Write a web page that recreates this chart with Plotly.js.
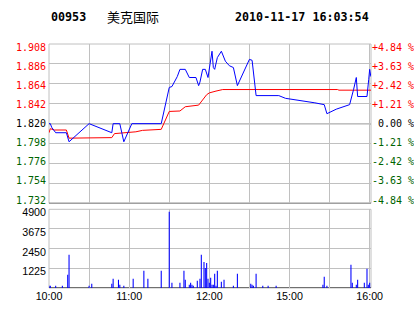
<!DOCTYPE html>
<html><head><meta charset="utf-8">
<script src="https://cdn.plot.ly/plotly-3.0.1.min.js"></script>
<style>html,body{margin:0;padding:0;background:#fff;overflow:hidden}#c{width:414px;height:314px}</style>
</head><body><div id="c"></div><script>
const stockCode = '00953';
const stockName = '美克国际';
const stamp = '2010-11-17 16:03:54';
const prevClose = 1.820;

// minutes since 10:00 on a compressed trading-time axis
const priceMin = [0,1,2,5,13,15,30,47,48,53,56,62,84,90,92,96,98,102,105,110,112,113,115,117,119,122,123,124,126,129,132,135,138,141,150,152,155,172,177,187,199,206,208,215,225,228,230,231,238,239.3,240,240.9];
const price    = [1.820,1.820,1.816,1.810,1.810,1.800,1.820,1.810,1.820,1.820,1.800,1.820,1.820,1.860,1.861,1.872,1.880,1.880,1.871,1.871,1.862,1.866,1.880,1.880,1.871,1.900,1.882,1.880,1.893,1.900,1.889,1.884,1.882,1.862,1.891,1.890,1.851,1.851,1.848,1.846,1.843,1.841,1.831,1.836,1.841,1.858,1.871,1.850,1.850,1.869,1.880,1.872];

const avgMin   = [0,1,4,13,15,31,47,49,65,70,84,90,98,102,107,112,118,120,125,130,216,217,241];
const avgPrice = [1.810,1.8145,1.813,1.813,1.804,1.804,1.8046,1.809,1.811,1.8126,1.8137,1.8335,1.834,1.8387,1.8394,1.8405,1.852,1.854,1.856,1.8577,1.8577,1.857,1.857];

const volMin = [0,1,5,10,14,15,30,32,47,48,52,53,56,63,71,74,84,90,92,98,101,102,105,106,107,108,111,113,114,116,117,118,119,120,121,122,123,124,125,126,129,131,138,141,151,152,153,155,160,164,170,205,206,208,226,227,230,231,236,238,239,240];
const volume = [143,143,143,143,825,2065,143,267,267,578,516,205,143,578,1075,578,1075,4750,330,330,1075,516,205,330,205,143,453,578,2065,1612,1240,1550,578,330,640,205,205,887,143,1075,391,516,143,887,267,205,143,887,143,143,143,205,702,143,1447,330,205,516,330,1200,205,330];

const priceTicks = [1.732,1.754,1.776,1.798,1.820,1.842,1.864,1.886,1.908];
const pctLabels  = ['-4.84 %','-3.63 %','-2.42 %','-1.21 %','\u00a00.00 %','+1.21 %','+2.42 %','+3.63 %','+4.84 %'];
const volTicks   = [1225,2450,3675,4900];
const timeTicks  = [0,30,60,90,120,150,180,210,240];
const timeLabels = ['10:00','','11:00','','12:00','','15:00','','16:00'];

const RED = '#ff0000', GREEN = '#006400', GRID = '#c0c0c0';
const colorFor = (v) => v > prevClose + 1e-9 ? RED : (v < prevClose - 1e-9 ? GREEN : '#000000');
const pct = (p) => (p / prevClose - 1) * 100;

// label-only axes: slightly different ranges so labels sit where the reference prints them
const labelRange = [1.7282, 1.9118];
const volLabelRange = [210, 5110];

const priceText = priceTicks.map(v => `<span style="color:${colorFor(v)}">${v.toFixed(3)}</span>`);
const pctVals = priceTicks.map(pct);
const pctText = priceTicks.map((v, i) => `<span style="color:${colorFor(v)}">${pctLabels[i]}</span>`);

const ghost = {color: 'rgba(0,0,0,0)', width: 0};
const traces = [
  {x: priceMin, y: price.map(pct), xaxis: 'x', yaxis: 'y2', type: 'scatter', mode: 'lines', line: ghost, hoverinfo: 'skip', showlegend: false},
  {x: priceMin, y: price, xaxis: 'x', yaxis: 'y4', type: 'scatter', mode: 'lines', line: ghost, hoverinfo: 'skip', showlegend: false},
  {x: volMin, y: volume, xaxis: 'x', yaxis: 'y5', type: 'scatter', mode: 'lines', line: ghost, hoverinfo: 'skip', showlegend: false},
  {x: avgMin, y: avgPrice, xaxis: 'x', yaxis: 'y', type: 'scatter', mode: 'lines',
   line: {color: '#ff0000', width: 1}, hoverinfo: 'skip', showlegend: false},
  {x: priceMin, y: price, xaxis: 'x', yaxis: 'y', type: 'scatter', mode: 'lines',
   line: {color: '#0000ff', width: 1}, hoverinfo: 'skip', showlegend: false},
  {x: volMin, y: volume, xaxis: 'x', yaxis: 'y3', type: 'bar', width: 0.8,
   marker: {color: '#0000ff', line: {width: 0}}, hoverinfo: 'skip', showlegend: false}
];

const monoFont = {family: 'DejaVu Sans Mono, monospace', size: 10, color: '#000'};
const sansFont = {family: 'Liberation Sans, Arial, sans-serif', size: 10.7, color: '#000'};
const pTop = 0.347, vTop = 0.3225;
const layout = {
  width: 414, height: 314,
  margin: {l: 49, r: 43, t: 44, b: 26, pad: 0},
  paper_bgcolor: '#ffffff', plot_bgcolor: '#ffffff',
  showlegend: false, hovermode: false,
  xaxis: {range: [0, 241], anchor: 'y3', tickmode: 'array', tickvals: timeTicks, ticktext: timeLabels,
          showgrid: true, gridcolor: GRID, gridwidth: 1, zeroline: false, showline: false, ticks: '',
          tickfont: sansFont},
  yaxis: {domain: [pTop, 1], range: [1.732, 1.908], tickmode: 'array', tickvals: priceTicks,
          showticklabels: false, showgrid: true, gridcolor: GRID, gridwidth: 1, zeroline: false, showline: false, ticks: ''},
  yaxis4: {overlaying: 'y', side: 'left', anchor: 'x', range: labelRange, tickmode: 'array', tickvals: priceTicks, ticktext: priceText,
           showgrid: false, zeroline: false, showline: false, ticks: '', ticklabelstandoff: 2, tickfont: monoFont},
  yaxis2: {overlaying: 'y', side: 'right', anchor: 'x', range: labelRange.map(pct), tickmode: 'array',
           tickvals: pctVals, ticktext: pctText, showgrid: false, zeroline: false, showline: false, ticks: '',
           ticklabelstandoff: 0, tickfont: monoFont},
  yaxis3: {domain: [0, vTop], range: [0, 4900], tickmode: 'array', tickvals: volTicks, showticklabels: false,
           showgrid: true, gridcolor: GRID, gridwidth: 1, zeroline: false, showline: false, ticks: ''},
  yaxis5: {overlaying: 'y3', side: 'left', anchor: 'x', range: volLabelRange, tickmode: 'array', tickvals: volTicks,
           ticktext: volTicks.map(String), showgrid: false, zeroline: false, showline: false, ticks: '',
           ticklabelstandoff: 2, tickfont: sansFont},
  shapes: [
    {type: 'rect', xref: 'paper', yref: 'paper', x0: 0, x1: 1, y0: pTop, y1: 1, line: {color: GRID, width: 1}, layer: 'between'},
    {type: 'rect', xref: 'paper', yref: 'paper', x0: 0, x1: 1, y0: 0, y1: vTop, line: {color: GRID, width: 1}, layer: 'between'},
    {type: 'line', xref: 'paper', yref: 'y', x0: 0, x1: 1, y0: prevClose, y1: prevClose, line: {color: '#000', width: 1}, layer: 'between'},
    {type: 'line', xref: 'paper', yref: 'y', x0: 0, x1: 1, y0: 1.732, y1: 1.732, line: {color: '#000', width: 1}, layer: 'between'},
    {type: 'line', xref: 'paper', yref: 'y3', x0: 0, x1: 1, y0: 0, y1: 0, line: {color: '#000', width: 1}, layer: 'between'}
  ],
  annotations: [
    {text: stockCode, xref: 'paper', yref: 'paper', x: 0, y: 1.112, xanchor: 'left', yanchor: 'middle', showarrow: false,
     font: {family: 'DejaVu Sans Mono, monospace', size: 11.7, color: '#000', weight: 'bold'}},
    {text: stockName, xref: 'paper', yref: 'paper', x: 0.174, y: 1.112, xanchor: 'left', yanchor: 'middle', showarrow: false,
     font: {family: 'Noto Sans CJK SC, sans-serif', size: 13, color: '#000'}},
    {text: stamp, xref: 'paper', yref: 'paper', x: 1, y: 1.112, xanchor: 'right', yanchor: 'middle', showarrow: false,
     font: {family: 'DejaVu Sans Mono, monospace', size: 11.7, color: '#000', weight: 'bold'}}
  ]
};

Plotly.newPlot('c', traces, layout, {displayModeBar: false, staticPlot: true});
</script></body></html>
